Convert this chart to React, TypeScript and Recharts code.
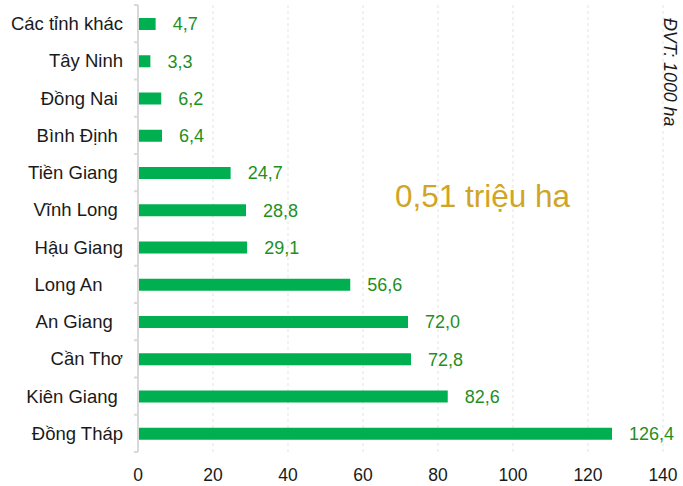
import { useEffect } from 'react';
import { Bar, BarChart, CartesianGrid, LabelList, XAxis, YAxis } from 'recharts';

// trailing spaces kept as in the source labels
const provinces = [
  'Các tỉnh khác',
  'Tây Ninh',
  'Đồng Nai ',
  'Bình Định ',
  'Tiền Giang ',
  'Vĩnh Long ',
  'Hậu Giang',
  'Long An    ',
  'An Giang  ',
  'Cần Thơ',
  'Kiên Giang ',
  'Đồng Tháp',
];
const areas = [4.7, 3.3, 6.2, 6.4, 24.7, 28.8, 29.1, 56.6, 72.0, 72.8, 82.6, 126.4];
const xTicks = [0, 20, 40, 60, 80, 100, 120, 140];
const totalLabel = '0,51 triệu ha';
const unitLabel = 'ĐVT: 1000 ha';

const data = provinces.map((name, i) => ({ name, value: areas[i] }));

const W = 683;
const H = 486;
const MARGIN = { top: 5, right: 20, bottom: 0, left: 0 };
const X_AXIS_H = 34;
const FONT = "Arial, 'Liberation Sans', sans-serif";
const band = (H - MARGIN.top - MARGIN.bottom - X_AXIS_H) / provinces.length;

const fmt = (v: number) => v.toFixed(1).replace('.', ',');

function ProvinceTick(props: any) {
  const { x, y, payload, index } = props;
  const axisX = x + 15;
  return (
    <g>
      {index === 0 && (
        <line x1={axisX - 4} x2={axisX} y1={y - band / 2} y2={y - band / 2} stroke='#d9d9d9' strokeWidth={2} />
      )}
      <line x1={axisX - 4} x2={axisX} y1={y + band / 2} y2={y + band / 2} stroke='#d9d9d9' strokeWidth={2} />
      <text
        x={x}
        y={y}
        dy='0.35em'
        textAnchor='end'
        fill='#1a1a1a'
        fontSize={18.5}
        fontFamily={FONT}
        style={{ whiteSpace: 'pre' }}
      >
        {payload.value}
      </text>
    </g>
  );
}

export default function App() {
  useEffect(() => {
    document.body.style.margin = '0';
  }, []);

  return (
    <div style={{ position: 'absolute', left: 0, top: 0, width: W, height: H, background: '#fff' }}>
      <BarChart width={W} height={H} data={data} layout='vertical' margin={MARGIN}>
        <CartesianGrid horizontal={false} strokeDasharray='3 3' stroke='#e3e3e3' />
        <XAxis
          type='number'
          domain={[0, 140]}
          ticks={xTicks}
          height={X_AXIS_H}
          axisLine={false}
          tickLine={false}
          tickSize={6}
          tickMargin={11}
          tick={{ fill: '#1a1a1a', fontSize: 17.5, fontFamily: FONT }}
        />
        <YAxis
          type='category'
          dataKey='name'
          width={138}
          axisLine={{ stroke: '#d9d9d9', strokeWidth: 2 }}
          tickLine={false}
          tickSize={4}
          tickMargin={11}
          interval={0}
          tick={<ProvinceTick />}
        />
        <Bar dataKey='value' fill='#00b050' barSize={12} isAnimationActive={false}>
          <LabelList
            dataKey='value'
            position='right'
            offset={17}
            formatter={(v: any) => fmt(Number(v))}
            fill='#1f8f1f'
            fontSize={18}
            fontFamily={FONT}
          />
        </Bar>
      </BarChart>
      <svg width={W} height={H} style={{ position: 'absolute', left: 0, top: 0, pointerEvents: 'none' }}>
        <text x={395} y={207} fill='#d0a526' fontSize={31.5} fontFamily={FONT}>
          {totalLabel}
        </text>
        <text
          transform='translate(664, 18) rotate(90)'
          fill='#1a1a1a'
          fontSize={17.8}
          fontStyle='italic'
          fontFamily={FONT}
        >
          {unitLabel}
        </text>
      </svg>
    </div>
  );
}
